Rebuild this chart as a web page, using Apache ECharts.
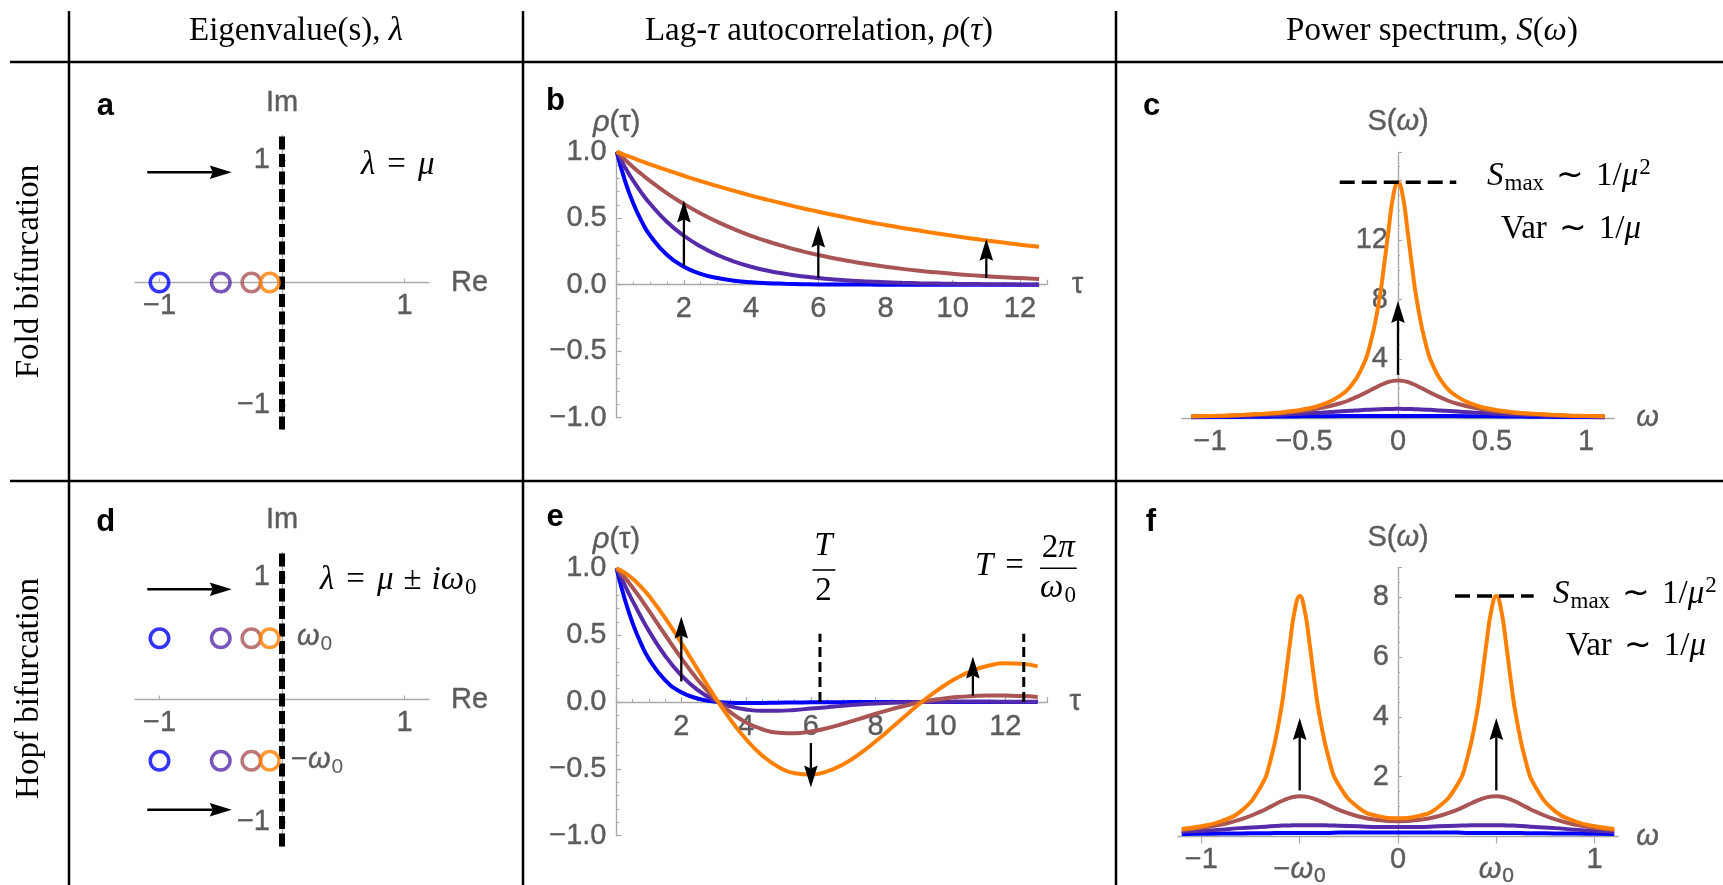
<!DOCTYPE html>
<html>
<head>
<meta charset="utf-8">
<title>Early-warning signals: fold and Hopf bifurcations</title>
<script src="https://cdn.jsdelivr.net/npm/echarts@6.0.0/dist/echarts.min.js"></script>
<style>
  html, body { margin: 0; padding: 0; background: #ffffff; }
  #chart { width: 1723px; height: 885px; }
</style>
</head>
<body>
<div id="chart"></div>
<script>
// Real parts of the eigenvalues, far from (blue) to close to (orange) the bifurcation
const mu = [-1, -0.5, -0.25, -0.1];
const omegaZero = 0.5;
const curveColors = ['#0000ff', '#552baa', '#aa5555', '#ff8000'];

// Fold: lag-tau autocorrelation
const tauFold = [0, 0.25, 0.5, 0.75, 1, 1.5, 2, 2.5, 3, 3.5, 4, 4.5, 5, 5.5, 6, 6.5, 7, 7.5, 8, 8.5, 9, 9.5, 10, 10.5, 11, 11.5, 12, 12.57];
const rhoFoldBlue   = [1.000, 0.779, 0.607, 0.472, 0.368, 0.223, 0.135, 0.082, 0.050, 0.030, 0.018, 0.011, 0.007, 0.004, 0.002, 0.002, 0.001, 0.001, 0, 0, 0, 0, 0, 0, 0, 0, 0, 0];
const rhoFoldPurple = [1.000, 0.882, 0.779, 0.687, 0.607, 0.472, 0.368, 0.287, 0.223, 0.174, 0.135, 0.105, 0.082, 0.064, 0.050, 0.039, 0.030, 0.024, 0.018, 0.014, 0.011, 0.009, 0.007, 0.005, 0.004, 0.003, 0.002, 0.002];
const rhoFoldBrown  = [1.000, 0.939, 0.882, 0.829, 0.779, 0.687, 0.607, 0.535, 0.472, 0.417, 0.368, 0.325, 0.287, 0.253, 0.223, 0.197, 0.174, 0.153, 0.135, 0.119, 0.105, 0.093, 0.082, 0.072, 0.064, 0.056, 0.050, 0.043];
const rhoFoldOrange = [1.000, 0.975, 0.951, 0.928, 0.905, 0.861, 0.819, 0.779, 0.741, 0.705, 0.670, 0.638, 0.607, 0.577, 0.549, 0.522, 0.497, 0.472, 0.449, 0.427, 0.407, 0.387, 0.368, 0.350, 0.333, 0.317, 0.301, 0.285];

// Hopf: lag-tau autocorrelation
const tauHopf = [0, 0.25, 0.5, 0.75, 1, 1.5, 2, 2.5, 3, 3.5, 4, 4.5, 5, 5.5, 6, 6.5, 7, 7.5, 8, 8.5, 9, 9.5, 10, 10.5, 11, 11.5, 12, 12.5, 13];
const rhoHopfBlue   = [1.000, 0.773, 0.588, 0.440, 0.323, 0.163, 0.073, 0.026, 0.004, -0.005, -0.008, -0.007, -0.005, -0.004, -0.002, -0.001, -0.001, 0, 0, 0, 0, 0, 0, 0, 0, 0, 0, 0, 0];
const rhoHopfPurple = [1.000, 0.876, 0.755, 0.640, 0.532, 0.346, 0.199, 0.090, 0.016, -0.031, -0.056, -0.066, -0.066, -0.059, -0.049, -0.039, -0.028, -0.019, -0.012, -0.006, -0.002, 0.000, 0.002, 0.003, 0.003, 0.003, 0.002, 0.002, 0.001];
const rhoHopfBrown  = [1.000, 0.932, 0.855, 0.771, 0.683, 0.503, 0.328, 0.169, 0.033, -0.074, -0.153, -0.204, -0.230, -0.234, -0.221, -0.196, -0.163, -0.126, -0.088, -0.053, -0.022, 0.004, 0.023, 0.037, 0.045, 0.049, 0.048, 0.044, 0.038];
const rhoHopfOrange = [1.000, 0.967, 0.922, 0.863, 0.794, 0.630, 0.442, 0.246, 0.052, -0.126, -0.279, -0.401, -0.486, -0.533, -0.543, -0.519, -0.465, -0.388, -0.294, -0.191, -0.086, 0.015, 0.104, 0.179, 0.236, 0.273, 0.289, 0.286, 0.266];

// Fold: power spectrum
const omegaFold = [-1.1, -1.0, -0.9, -0.8, -0.7, -0.6, -0.5, -0.4, -0.3, -0.25, -0.2, -0.15, -0.1, -0.075, -0.05, -0.025, 0,
                   0.025, 0.05, 0.075, 0.1, 0.15, 0.2, 0.25, 0.3, 0.4, 0.5, 0.6, 0.7, 0.8, 0.9, 1.0, 1.1];
const specFoldBlue   = [0.07, 0.08, 0.09, 0.10, 0.11, 0.12, 0.13, 0.14, 0.15, 0.15, 0.15, 0.16, 0.16, 0.16, 0.16, 0.16, 0.16, 0.16, 0.16, 0.16, 0.16, 0.16, 0.15, 0.15, 0.15, 0.14, 0.13, 0.12, 0.11, 0.10, 0.09, 0.08, 0.07];
const specFoldPurple = [0.11, 0.13, 0.15, 0.18, 0.22, 0.26, 0.32, 0.39, 0.47, 0.51, 0.55, 0.58, 0.61, 0.62, 0.63, 0.63, 0.64, 0.63, 0.63, 0.62, 0.61, 0.58, 0.55, 0.51, 0.47, 0.39, 0.32, 0.26, 0.22, 0.18, 0.15, 0.13, 0.11];
const specFoldBrown  = [0.12, 0.15, 0.18, 0.23, 0.29, 0.38, 0.51, 0.72, 1.04, 1.27, 1.55, 1.87, 2.19, 2.33, 2.45, 2.52, 2.54, 2.52, 2.45, 2.33, 2.19, 1.87, 1.55, 1.27, 1.04, 0.72, 0.51, 0.38, 0.29, 0.23, 0.18, 0.15, 0.12];
const specFoldOrange = [0.13, 0.16, 0.19, 0.25, 0.32, 0.43, 0.61, 0.94, 1.59, 2.19, 3.18, 4.89, 7.95, 10.2, 12.7, 15.0, 15.9, 15.0, 12.7, 10.2, 7.95, 4.89, 3.18, 2.19, 1.59, 0.94, 0.61, 0.43, 0.32, 0.25, 0.19, 0.16, 0.13];

// Hopf: power spectrum
const omegaHopf = [-1.1, -1.0, -0.9, -0.8, -0.7, -0.65, -0.6, -0.575, -0.55, -0.525, -0.5, -0.475, -0.45, -0.425, -0.4, -0.35, -0.3, -0.2, -0.1, 0,
                   0.1, 0.2, 0.3, 0.35, 0.4, 0.425, 0.45, 0.475, 0.5, 0.525, 0.55, 0.575, 0.6, 0.65, 0.7, 0.8, 0.9, 1.0, 1.1];
const specHopfBlue   = [0.08, 0.09, 0.10, 0.10, 0.11, 0.11, 0.12, 0.12, 0.12, 0.12, 0.12, 0.12, 0.12, 0.12, 0.12, 0.12, 0.13, 0.13, 0.13, 0.13, 0.13, 0.13, 0.13, 0.12, 0.12, 0.12, 0.12, 0.12, 0.12, 0.12, 0.12, 0.12, 0.12, 0.11, 0.11, 0.10, 0.10, 0.09, 0.08];
const specHopfPurple = [0.16, 0.19, 0.23, 0.28, 0.32, 0.34, 0.36, 0.37, 0.37, 0.38, 0.38, 0.38, 0.38, 0.38, 0.38, 0.37, 0.36, 0.34, 0.32, 0.32, 0.32, 0.34, 0.36, 0.37, 0.38, 0.38, 0.38, 0.38, 0.38, 0.38, 0.37, 0.37, 0.36, 0.34, 0.32, 0.28, 0.23, 0.19, 0.16];
const specHopfBrown  = [0.22, 0.29, 0.40, 0.57, 0.83, 0.99, 1.16, 1.23, 1.29, 1.33, 1.35, 1.34, 1.31, 1.26, 1.19, 1.04, 0.89, 0.67, 0.55, 0.51, 0.55, 0.67, 0.89, 1.04, 1.19, 1.26, 1.31, 1.34, 1.35, 1.33, 1.29, 1.23, 1.16, 0.99, 0.83, 0.57, 0.40, 0.29, 0.22];
const specHopfOrange = [0.25, 0.34, 0.51, 0.84, 1.65, 2.51, 4.05, 5.16, 6.44, 7.57, 8.04, 7.57, 6.46, 5.19, 4.08, 2.56, 1.71, 0.96, 0.68, 0.61, 0.68, 0.96, 1.71, 2.56, 4.08, 5.19, 6.46, 7.57, 8.04, 7.57, 6.44, 5.16, 4.05, 2.51, 1.65, 0.84, 0.51, 0.34, 0.25];

// Arrows [x0, y0, x1, y1] in each panel's data units
const arrowsFoldEig  = [[-1.1, 0.9, -0.41, 0.9]];
const arrowsHopfEig  = [[-1.1, 0.9, -0.41, 0.9], [-1.1, -0.9, -0.41, -0.9]];
const arrowsFoldAcf  = [[2, 0.145, 2, 0.634], [6, 0.05, 6, 0.446], [11, 0.05, 11, 0.346]];
const arrowsHopfAcf  = [[2, 0.154, 2, 0.64], [6, -0.307, 6, -0.64], [11, 0.047, 11, 0.34]];
const arrowsFoldSpec = [[0, 2.93, 0, 7.9]];
const arrowsHopfSpec = [[-0.5, 1.54, -0.5, 3.96], [0.5, 1.54, 0.5, 3.96]];

// Dashed guides
const halfPeriod = 6.28, fullPeriod = 12.57, periodGuideTop = 0.51;
const sMaxFold = 15.9, sMaxFoldSpan = [-0.31, 0.31];
const sMaxHopf = 8.04, sMaxHopfSpan = [0.29, 0.69];
const imAxisSpan = [-1.2, 1.2];

// ---------------------------------------------------------------------------
const SANS = '"Liberation Sans", Arial, Helvetica, sans-serif';
const SERIF = '"Liberation Serif", "Times New Roman", serif';
const AXIS_GRAY = '#a9a9a9';
const LABEL_GRAY = '#5c5c5c';

const tickFont = { color: LABEL_GRAY, fontFamily: SANS, fontSize: 29, textBorderColor: LABEL_GRAY, textBorderWidth: 0.4 };
const nameStyle = Object.assign({}, tickFont, {
  rich: { i: Object.assign({ fontStyle: 'italic' }, tickFont) }
});
const fmtNum = (v, d) => (v < 0 ? '\u2212' : '') + Math.abs(v).toFixed(d);

const grids = [
  { left: 135,    top: 135.5, width: 294,   height: 294 },   // a
  { left: 616.7,  top: 151.7, width: 430.1, height: 266 },   // b
  { left: 1181.8, top: 152.5, width: 432.4, height: 265.8 }, // c
  { left: 135,    top: 552.5, width: 294,   height: 294 },   // d
  { left: 616.5,  top: 568.3, width: 430.9, height: 267.4 }, // e
  { left: 1177.8, top: 567.4, width: 440.4, height: 269.1 }  // f
].map(g => Object.assign({ containLabel: false, outerBoundsMode: 'none' }, g));

// Shift an axis from the grid edge to the other axis' zero
const zeroShift = (size, min, max) => -size * (0 - min) / (max - min);

function valueAxis(gridIndex, cfg) {
  return Object.assign({
    gridIndex: gridIndex,
    type: 'value',
    splitLine: { show: false },
    nameLocation: 'end',
    nameMoveOverlap: false,
    nameTextStyle: nameStyle,
    axisLine: { show: true, onZero: false, lineStyle: { color: AXIS_GRAY, width: 1.4 } }
  }, cfg);
}
const tick = (extra) => Object.assign({ show: true, inside: true, length: 5, lineStyle: { color: AXIS_GRAY, width: 1.2 } }, extra || {});
const minor = (n, len) => ({ show: true, splitNumber: n, length: len, lineStyle: { color: AXIS_GRAY, width: 1 } });

function eigenAxes(gi) {
  const g = grids[gi];
  return {
    x: valueAxis(gi, {
      min: -1.2, max: 1.2, position: 'bottom', offset: zeroShift(g.height, -1.2, 1.2),
      axisTick: tick({ customValues: [-1, 1], length: 4 }),
      axisLabel: Object.assign({ customValues: [-1, 1], formatter: v => fmtNum(v, 0), margin: 9 }, tickFont),
      name: 'Re', nameGap: 22
    }),
    y: valueAxis(gi, {
      min: -1.2, max: 1.2, position: 'left', offset: zeroShift(g.width, -1.2, 1.2),
      axisTick: tick({ customValues: [-1, 1], length: 4 }),
      axisLabel: Object.assign({ customValues: [-1, 1], formatter: v => fmtNum(v, 0), margin: 12 }, tickFont),
      name: 'Im', nameGap: 18
    })
  };
}
function acfAxes(gi, xmax, nameGapX) {
  const g = grids[gi];
  return {
    x: valueAxis(gi, {
      min: 0, max: xmax, interval: 2, position: 'bottom', offset: zeroShift(g.height, -1, 1),
      axisTick: tick(), minorTick: minor(4, 3),
      axisLabel: Object.assign({
        formatter: v => (v > 0 && Math.abs(v / 2 - Math.round(v / 2)) < 1e-6) ? String(v) : '',
        margin: 10
      }, tickFont),
      name: 'τ', nameGap: nameGapX
    }),
    y: valueAxis(gi, {
      min: -1, max: 1, interval: 0.5, position: 'left',
      axisTick: tick(), minorTick: minor(5, 3),
      axisLabel: Object.assign({ formatter: v => fmtNum(v, 1), margin: 10, showMinLabel: true, showMaxLabel: true }, tickFont),
      name: '{i|ρ}(τ)', nameGap: 14
    })
  };
}

const eA = eigenAxes(0), eD = eigenAxes(3);
const acfB = acfAxes(1, 12.8, 25), acfE = acfAxes(4, 13.3, 22);

const specCx = valueAxis(2, {
  min: -1.15, max: 1.15, position: 'bottom',
  axisTick: tick({ customValues: [-1, -0.5, 0, 0.5, 1], length: 4 }),
  axisLabel: Object.assign({ customValues: [-1, -0.5, 0, 0.5, 1], formatter: v => fmtNum(v, Number.isInteger(v) ? 0 : 1), margin: 9 }, tickFont),
  name: '{i|ω}', nameGap: 22
});
const specCy = valueAxis(2, {
  min: 0, max: 17.9, interval: 4, position: 'left', offset: zeroShift(grids[2].width, -1.15, 1.15),
  axisTick: tick({ length: 4 }), minorTick: minor(4, 2),
  axisLabel: Object.assign({ formatter: v => ([4, 8, 12].indexOf(v) >= 0 ? String(v) : ''), margin: 10 }, tickFont),
  name: 'S({i|ω})', nameGap: 16
});
const specFx = valueAxis(5, {
  min: -1.12, max: 1.12, position: 'bottom',
  axisTick: { show: true, inside: false, length: 7, customValues: [-1, -0.5, 0, 0.5, 1], lineStyle: { color: AXIS_GRAY, width: 1.2 } },
  axisLabel: Object.assign({
    customValues: [-1, -0.5, 0, 0.5, 1],
    formatter: v => v === -0.5 ? '{m|\u2212}{w|ω}{s|0}' : (v === 0.5 ? '{w|ω}{s|0}' : fmtNum(v, 0)),
    margin: 9,
    rich: {
      m: Object.assign({ padding: [8, 0, 0, 0] }, tickFont),
      w: Object.assign({ padding: [8, 0, 0, 0], fontStyle: 'italic' }, tickFont),
      s: Object.assign({}, tickFont, { fontSize: 21, padding: [20, 0, 0, 1] })
    }
  }, tickFont),
  name: '{i|ω}', nameGap: 18
});
const specFy = valueAxis(5, {
  min: 0, max: 9, interval: 2, position: 'left', offset: zeroShift(grids[5].width, -1.12, 1.12),
  axisTick: tick({ length: 4 }), minorTick: minor(4, 2),
  axisLabel: Object.assign({ formatter: v => ([2, 4, 6, 8].indexOf(v) >= 0 ? String(v) : ''), margin: 9 }, tickFont),
  name: 'S({i|ω})', nameGap: 15
});

// ---------------------------------------------------------------------------
function curve(gi, xs, ys, color, z) {
  return {
    type: 'line', xAxisIndex: gi, yAxisIndex: gi, silent: true, z: z,
    data: xs.map((x, i) => [x, ys[i]]),
    smooth: true, symbol: 'none', showSymbol: false, clip: false,
    lineStyle: { color: color, width: 4 }
  };
}
function dashed(gi, pts, width, dash) {
  return {
    type: 'line', xAxisIndex: gi, yAxisIndex: gi, silent: true, z: 6,
    data: pts, symbol: 'none', showSymbol: false, clip: false,
    lineStyle: { color: '#000', width: width, type: dash }
  };
}
function arrows(gi, list) {
  return {
    type: 'custom', xAxisIndex: gi, yAxisIndex: gi, silent: true, z: 8,
    data: list,
    renderItem: function (params, api) {
      const p1 = api.coord([api.value(0), api.value(1)]);
      const p2 = api.coord([api.value(2), api.value(3)]);
      const dx = p2[0] - p1[0], dy = p2[1] - p1[1];
      const len = Math.sqrt(dx * dx + dy * dy) || 1;
      const ux = dx / len, uy = dy / len, nx = -uy, ny = ux;
      const L = 22, W = 6.8, N = 3;
      const bx = p2[0] - ux * L, by = p2[1] - uy * L;
      const kx = p2[0] - ux * (L - N), ky = p2[1] - uy * (L - N);
      return {
        type: 'group',
        children: [
          { type: 'line', shape: { x1: p1[0], y1: p1[1], x2: kx, y2: ky }, style: { stroke: '#000', lineWidth: 2.3 } },
          { type: 'polygon', shape: { points: [[p2[0], p2[1]], [bx + nx * W, by + ny * W], [kx, ky], [bx - nx * W, by - ny * W]] },
            style: { fill: '#000' } }
        ]
      };
    }
  };
}
function eigenCircles(gi, imValues) {
  const data = [];
  imValues.forEach(im => mu.forEach((m, i) => data.push({ value: [m, im], itemStyle: { borderColor: curveColors[i] } })));
  return {
    type: 'scatter', xAxisIndex: gi, yAxisIndex: gi, silent: true, z: 7,
    data: data, symbol: 'circle', symbolSize: 18.5,
    itemStyle: { color: 'rgba(255,255,255,0)', borderWidth: 3.5 }
  };
}
function curveSet(gi, xs, sets) {
  return sets.map((ys, i) => curve(gi, xs, ys, curveColors[i], 3 + i * 0.1));
}

const series = [].concat(
  // a
  [dashed(0, [[0, imAxisSpan[0]], [0, imAxisSpan[1]]], 6, [13, 4.5]), eigenCircles(0, [0]), arrows(0, arrowsFoldEig)],
  // b
  curveSet(1, tauFold, [rhoFoldBlue, rhoFoldPurple, rhoFoldBrown, rhoFoldOrange]),
  [arrows(1, arrowsFoldAcf)],
  // c
  curveSet(2, omegaFold, [specFoldBlue, specFoldPurple, specFoldBrown, specFoldOrange]),
  [dashed(2, [[sMaxFoldSpan[0], sMaxFold], [sMaxFoldSpan[1], sMaxFold]], 3.5, [15, 7]), arrows(2, arrowsFoldSpec)],
  // d
  [dashed(3, [[0, imAxisSpan[0]], [0, imAxisSpan[1]]], 6, [13, 4.5]), eigenCircles(3, [omegaZero, -omegaZero]), arrows(3, arrowsHopfEig)],
  // e
  curveSet(4, tauHopf, [rhoHopfBlue, rhoHopfPurple, rhoHopfBrown, rhoHopfOrange]),
  [dashed(4, [[halfPeriod, 0], [halfPeriod, periodGuideTop]], 3, [10, 5]),
   dashed(4, [[fullPeriod, 0], [fullPeriod, periodGuideTop]], 3, [10, 5]),
   arrows(4, arrowsHopfAcf)],
  // f
  curveSet(5, omegaHopf, [specHopfBlue, specHopfPurple, specHopfBrown, specHopfOrange]),
  [dashed(5, [[sMaxHopfSpan[0], sMaxHopf], [sMaxHopfSpan[1], sMaxHopf]], 3.5, [15, 7]), arrows(5, arrowsHopfSpec)]
);

// ---------------------------------------------------------------------------
// Table frame, headings, math annotations
const MATH_RICH = {
  i:   { fontFamily: SERIF, fontStyle: 'italic', fontSize: 33, fill: '#000', color: '#000' },
  r:   { fontFamily: SERIF, fontSize: 33, fill: '#000', color: '#000' },
  rel: { fontFamily: SERIF, fontSize: 33, fill: '#000', color: '#000', padding: [0, 12, 0, 12] },
  bin: { fontFamily: SERIF, fontSize: 33, fill: '#000', color: '#000', padding: [0, 10, 0, 10] },
  sub: { fontFamily: SERIF, fontSize: 23, fill: '#000', color: '#000', padding: [16, 0, 0, 1] },
  sup: { fontFamily: SERIF, fontSize: 23, fill: '#000', color: '#000', padding: [0, 0, 16, 1] }
};
const HEAD_RICH = { i: { fontFamily: SERIF, fontStyle: 'italic', fontSize: 33, fill: '#000', color: '#000' } };
const GRAY_RICH = {
  w: { fontFamily: SANS, fontStyle: 'italic', fontSize: 29, fill: LABEL_GRAY, color: LABEL_GRAY, stroke: LABEL_GRAY, lineWidth: 0.4 },
  m: { fontFamily: SANS, fontSize: 29, fill: LABEL_GRAY, color: LABEL_GRAY, stroke: LABEL_GRAY, lineWidth: 0.4 },
  s: { fontFamily: SANS, fontSize: 21, fill: LABEL_GRAY, color: LABEL_GRAY, padding: [14, 0, 0, 1] }
};

function text(x, y, str, style, extra) {
  const st = Object.assign({
    text: str, fill: '#000', font: '32px ' + SERIF,
    align: 'center', verticalAlign: 'middle', textAlign: 'center', textVerticalAlign: 'middle',
    rich: MATH_RICH
  }, style || {});
  return Object.assign({ type: 'text', x: x, y: y, silent: true, z: 100, style: st }, extra || {});
}
const leftText = (x, y, str, style) => text(x, y, str, Object.assign({ align: 'left', textAlign: 'left' }, style || {}));
function rule(x1, y1, x2, y2, w) {
  return { type: 'line', silent: true, z: 100, shape: { x1: x1, y1: y1, x2: x2, y2: y2 }, style: { stroke: '#000', lineWidth: w } };
}
const headStyle = { font: '33px ' + SERIF, rich: HEAD_RICH };
const letterStyle = { font: 'bold 31px ' + SANS };

const graphics = [
  rule(10, 62, 1723, 62, 2.5), rule(10, 481, 1723, 481, 2.5),
  rule(69, 11, 69, 885, 2.5), rule(523, 11, 523, 885, 2.5), rule(1116, 11, 1116, 885, 2.5),

  text(296, 31.5, 'Eigenvalue(s), {i|λ}', headStyle),
  text(819, 31.5, 'Lag-{i|τ} autocorrelation, {i|ρ}({i|τ})', headStyle),
  text(1432, 31.5, 'Power spectrum, {i|S}({i|ω})', headStyle),
  text(29, 271.5, 'Fold bifurcation', headStyle, { rotation: Math.PI / 2 }),
  text(29, 688.5, 'Hopf bifurcation', headStyle, { rotation: Math.PI / 2 }),

  text(105.3, 106, 'a', letterStyle), text(555.4, 101, 'b', letterStyle), text(1151.6, 106, 'c', letterStyle),
  text(105.8, 522.8, 'd', letterStyle), text(555, 517.8, 'e', letterStyle), text(1151, 522.8, 'f', letterStyle),

  leftText(361, 165, '{i|λ}{rel|=}{i|μ}'),
  leftText(320, 580, '{i|λ}{rel|=}{i|μ}{bin|±}{i|iω}{sub|0}'),
  leftText(297, 637, '{w|ω}{s|0}', { rich: GRAY_RICH }),
  leftText(291, 760, '{m|\u2212}{w|ω}{s|0}', { rich: GRAY_RICH }),

  leftText(1487, 176, '{i|S}{sub|max}{rel|∼}{r|1/}{i|μ}{sup|2}'),
  leftText(1501, 229, '{r|Var}{rel|∼}{r|1/}{i|μ}'),
  leftText(1553, 594, '{i|S}{sub|max}{rel|∼}{r|1/}{i|μ}{sup|2}'),
  leftText(1566, 646, '{r|Var}{rel|∼}{r|1/}{i|μ}'),

  text(823.5, 546.7, '{i|T}'), rule(812.4, 570, 835.3, 570, 1.6), text(823.5, 591, '{r|2}'),
  leftText(975, 566.7, '{i|T}{rel|=}'),
  text(1058.3, 548.3, '{r|2}{i|π}'), rule(1040, 568.3, 1076.7, 568.3, 1.6), text(1058, 588, '{i|ω}{sub|0}')
];

const chart = echarts.init(document.getElementById('chart'), null, { renderer: 'canvas', width: 1723, height: 885 });
chart.setOption({
  animation: false,
  backgroundColor: '#ffffff',
  grid: grids,
  xAxis: [eA.x, acfB.x, specCx, eD.x, acfE.x, specFx],
  yAxis: [eA.y, acfB.y, specCy, eD.y, acfE.y, specFy],
  series: series,
  graphic: { elements: graphics }
});
</script>
</body>
</html>
